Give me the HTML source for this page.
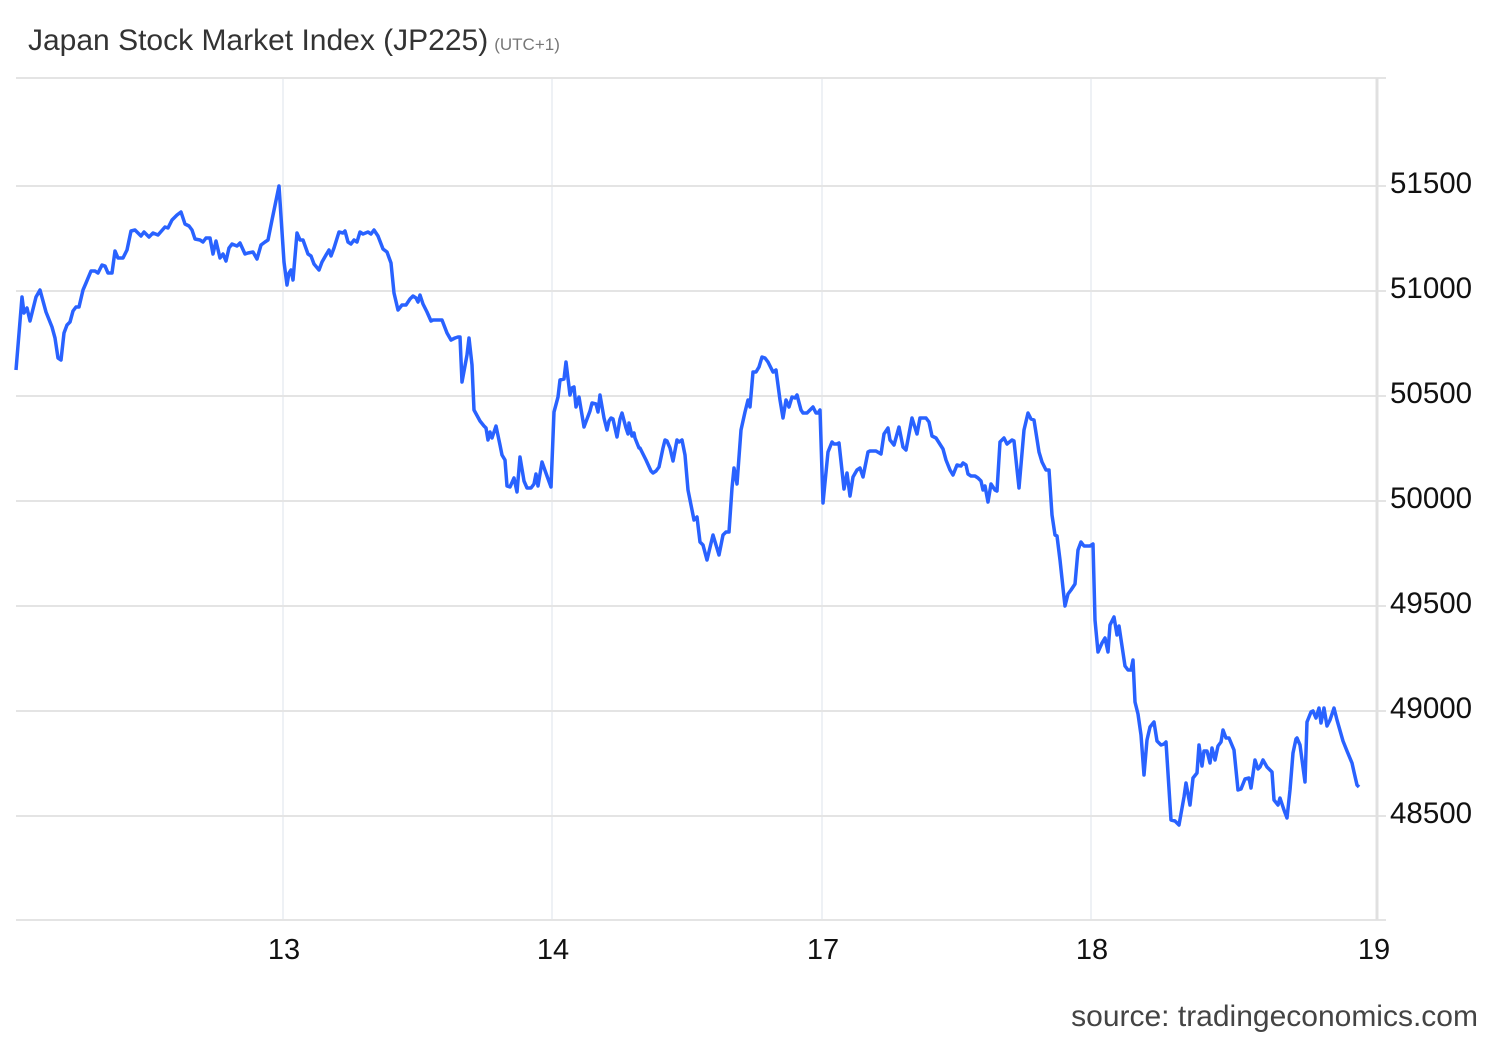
<!DOCTYPE html>
<html><head><meta charset="utf-8"><style>
html,body{margin:0;padding:0;background:#fff;}
body{width:1500px;height:1040px;overflow:hidden;}
</style></head><body>
<svg width="1500" height="1040" xmlns="http://www.w3.org/2000/svg" font-family="Liberation Sans, Arial, sans-serif">
<rect width="1500" height="1040" fill="#fff"/>
<text x="28" y="50" font-size="30" fill="#333">Japan Stock Market Index (JP225)<tspan font-size="17" fill="#777" dx="6">(UTC+1)</tspan></text>
<g stroke="#eef1f5" stroke-width="2">
<line x1="283" y1="78" x2="283" y2="920"/><line x1="552" y1="78" x2="552" y2="920"/>
<line x1="822" y1="78" x2="822" y2="920"/><line x1="1091" y1="78" x2="1091" y2="920"/>
</g>
<g stroke="#e4e4e4" stroke-width="2">
<line x1="16" y1="78" x2="1386" y2="78"/>
<line x1="16" y1="186" x2="1386" y2="186"/><line x1="16" y1="291" x2="1386" y2="291"/>
<line x1="16" y1="396" x2="1386" y2="396"/><line x1="16" y1="501" x2="1386" y2="501"/>
<line x1="16" y1="606" x2="1386" y2="606"/><line x1="16" y1="711" x2="1386" y2="711"/>
<line x1="16" y1="816" x2="1386" y2="816"/><line x1="16" y1="920" x2="1386" y2="920"/>
</g>
<line x1="1377" y1="78" x2="1377" y2="920" stroke="#e0e0e0" stroke-width="3"/>
<g font-size="29.5" fill="#111">
<text x="1390" y="193">51500</text><text x="1390" y="298">51000</text>
<text x="1390" y="403">50500</text><text x="1390" y="508">50000</text>
<text x="1390" y="613">49500</text><text x="1390" y="718">49000</text>
<text x="1390" y="823">48500</text>
</g>
<g font-size="29" fill="#111" text-anchor="middle">
<text x="284" y="959">13</text><text x="553" y="959">14</text><text x="823" y="959">17</text>
<text x="1092" y="959">18</text><text x="1374" y="959">19</text>
</g>
<text x="1478" y="1026" font-size="30" fill="#444" text-anchor="end">source: tradingeconomics.com</text>
<polyline fill="none" stroke="#2962ff" stroke-width="3.5" stroke-linejoin="round" points="16,370 22,297 24,313 27,308 30,321 36,297 40,290 46,312 52,327 55,338 58,358 61,360 64,333 67,325 70,322 73,311 76,307 79,307 83,290 86,283 91,271 95,271 98,273 102,265 105,266 108,273 112,273 115,251 118,258 123,258 127,250 131,231 135,230 141,236 144,232 149,237 153,233 158,235 165,227 168,228 172,220 177,215 181,212 185,224 189,226 192,230 195,239 200,240 203,242 206,238 210,238 213,254 216,241 220,258 223,254 226,261 229,248 232,244 237,246 240,243 245,254 248,253 253,252 257,259 261,245 265,242 268,240 272,220 279,186 284,262 287,285 289,273 291,270 293,280 297,233 300,240 303,240 308,254 311,256 314,264 319,270 322,262 326,255 329,250 331,256 334,248 339,232 343,233 345,231 348,242 351,244 354,240 357,242 360,232 363,234 368,232 371,234 374,230 378,236 383,249 387,252 391,263 394,293 398,310 402,305 406,305 410,299 413,296 416,298 418,302 420,295 423,304 427,312 431,321 433,320 442,320 447,333 451,340 455,338 458,337 460,337 462,382 467,355 469,338 472,365 474,410 480,421 484,426 486,428 488,440 490,432 492,438 496,426 500,445 502,455 505,460 507,486 510,487 514,478 517,492 520,457 524,481 527,488 531,488 534,484 536,474 538,486 542,462 547,476 551,487 554,412 558,397 560,380 564,379 566,362 570,395 572,388 574,387 576,407 579,397 584,427 590,411 592,403 596,404 598,412 600,395 604,418 607,430 609,421 611,418 613,419 617,437 620,419 622,413 626,428 628,434 629,423 632,436 634,433 635,438 639,448 640,448 643,454 646,460 651,471 653,473 656,471 659,467 663,448 665,440 667,441 670,448 673,461 677,440 679,442 682,440 685,455 688,490 692,510 694,520 697,517 700,542 703,545 707,560 713,535 719,555 723,535 726,532 729,532 732,488 734,468 737,484 741,430 745,412 748,400 750,407 753,372 756,372 759,367 762,357 765,358 768,362 772,370 773,372 776,370 780,400 783,418 786,400 789,407 792,397 795,398 797,395 801,410 803,413 807,413 810,410 813,407 816,413 818,413 820,410 823,503 828,452 832,442 834,444 837,444 839,443 844,489 847,473 850,496 853,477 857,470 860,468 863,477 868,452 870,451 876,451 881,454 884,434 888,428 890,440 894,445 899,427 903,447 906,450 912,418 917,434 920,418 926,418 929,422 932,436 936,438 943,449 946,460 950,470 953,475 957,465 961,466 963,463 966,465 968,474 971,476 975,476 978,478 981,481 983,490 985,486 988,502 991,484 995,490 997,491 1000,442 1004,438 1007,444 1012,440 1014,441 1019,488 1024,430 1028,413 1031,419 1034,420 1039,452 1042,462 1046,470 1049,470 1052,515 1055,535 1057,536 1060,560 1063,588 1065,606 1068,594 1071,590 1075,584 1078,550 1081,542 1084,546 1090,546 1093,544 1095,620 1098,652 1102,643 1105,638 1108,652 1110,625 1114,617 1117,635 1119,626 1122,646 1125,666 1128,670 1131,670 1133,660 1135,702 1138,714 1141,735 1144,775 1147,740 1150,727 1154,722 1157,741 1161,745 1164,744 1166,742 1171,820 1175,821 1179,825 1184,797 1186,783 1190,805 1193,778 1197,773 1199,745 1202,766 1204,751 1207,751 1210,763 1212,748 1215,760 1218,746 1221,742 1223,730 1226,738 1229,738 1234,750 1238,790 1241,789 1245,779 1249,778 1251,788 1255,760 1258,769 1260,767 1263,760 1267,767 1270,770 1272,772 1274,800 1278,805 1280,798 1284,810 1287,818 1290,790 1293,753 1296,739 1297,738 1300,745 1305,782 1307,722 1311,712 1313,711 1316,718 1319,708 1321,723 1324,708 1327,726 1330,720 1334,708 1337,720 1343,741 1347,751 1352,763 1354,772 1357,785 1359,787"/>
</svg>
</body></html>
